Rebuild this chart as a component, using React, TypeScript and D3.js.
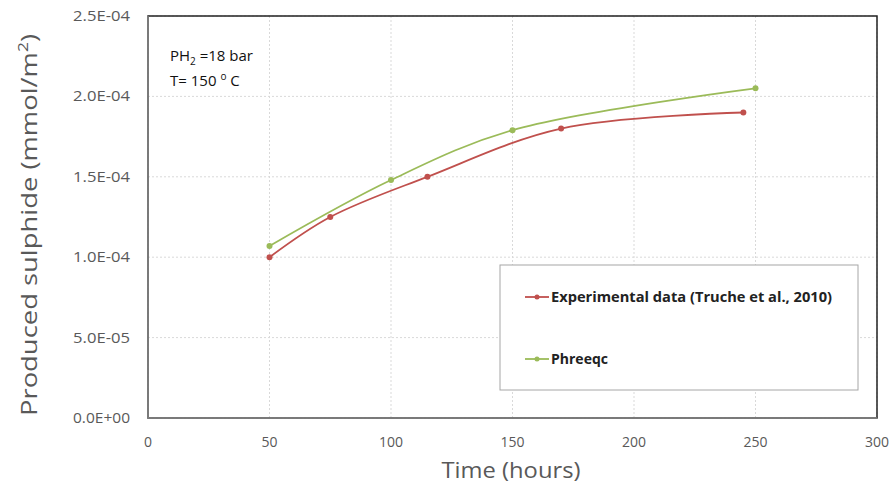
import React from "react";
import * as d3 from "d3";

const expTime = [50, 75, 115, 170, 245];
const expValues = [1.0e-4, 1.25e-4, 1.5e-4, 1.8e-4, 1.9e-4];
const phrTime = [50, 100, 150, 250];
const phrValues = [1.07e-4, 1.48e-4, 1.79e-4, 2.05e-4];
const xTicks = [0, 50, 100, 150, 200, 250, 300];
const yTicks = [0, 5e-5, 1e-4, 1.5e-4, 2e-4, 2.5e-4];
const yTickLabels = ["0.0E+00", "5.0E-05", "1.0E-04", "1.5E-04", "2.0E-04", "2.5E-04"];
const seriesNames = ["Experimental data (Truche et al., 2010)", "Phreeqc"];
const seriesColors = ["#C0504D", "#9BBB59"];

export default function App() {
  const W = 891, H = 491;
  const left = 148, right = 877, top = 16, bottom = 418;
  const x = d3.scaleLinear().domain([0, 300]).range([left, right]);
  const y = d3.scaleLinear().domain([0, 2.5e-4]).range([bottom, top]);
  const line = d3
    .line<[number, number]>()
    .x((d) => x(d[0]))
    .y((d) => y(d[1]))
    .curve(d3.curveCatmullRom.alpha(0.5));
  const series = [
    expTime.map((t, i) => [t, expValues[i]] as [number, number]),
    phrTime.map((t, i) => [t, phrValues[i]] as [number, number]),
  ];
  const font = "Open Sans, Liberation Sans, sans-serif";
  return (
    <svg width={W} height={H} style={{ position: "absolute", left: 0, top: 0 }}>
      <rect x={0} y={0} width={W} height={H} fill="#fff" />
      {xTicks.map((t) => (
        <line key={"gx" + t} x1={x(t)} x2={x(t)} y1={top} y2={bottom} stroke="#D9D9D9" strokeDasharray="2,2" />
      ))}
      {yTicks.map((t) => (
        <line key={"gy" + t} x1={left} x2={right} y1={y(t)} y2={y(t)} stroke="#D9D9D9" strokeDasharray="2,2" />
      ))}
      <rect x={left} y={top} width={right - left} height={bottom - top} fill="none" stroke="#222" strokeWidth={1.5} />
      <line x1={left} x2={left} y1={top} y2={bottom} stroke="#868686" strokeWidth={1.5} />
      <line x1={left} x2={right} y1={bottom} y2={bottom} stroke="#868686" strokeWidth={1.5} />
      {xTicks.map((t) => (
        <text key={"tx" + t} x={x(t)} y={bottom + 29} textAnchor="middle" fontFamily={font} fontSize={14} fill="#595959">
          {t}
        </text>
      ))}
      {yTicks.map((t, i) => (
        <text key={"ty" + t} x={130} y={y(t) + 5} textAnchor="end" fontFamily={font} fontSize={14} fill="#595959" textLength={57} lengthAdjust="spacingAndGlyphs">
          {yTickLabels[i]}
        </text>
      ))}
      <text x={511} y={478} textAnchor="middle" fontFamily={font} fontSize={22} fill="#595959" textLength={139} lengthAdjust="spacingAndGlyphs">
        Time (hours)
      </text>
      <text transform={`translate(37, 225) rotate(-90)`} textAnchor="middle" fontFamily={font} fontSize={22} fill="#595959" textLength={382} lengthAdjust="spacingAndGlyphs">
        Produced sulphide (mmol/m<tspan baselineShift="super" fontSize={14}>2</tspan>)
      </text>
      <text x={170} y={61} fontFamily={font} fontSize={15} fill="#111">
        PH<tspan fontSize={10} dy={4}>2</tspan>
        <tspan dy={-4}> =18 bar</tspan>
      </text>
      <text x={170} y={86} fontFamily={font} fontSize={15} fill="#111">
        T= 150 <tspan fontSize={10} dy={-6}>o</tspan>
        <tspan dy={6}> C</tspan>
      </text>
      {series.map((s, i) => (
        <g key={"s" + i}>
          <path d={line(s) || ""} fill="none" stroke={seriesColors[i]} strokeWidth={1.8} />
          {s.map((d, j) => (
            <circle key={j} cx={x(d[0])} cy={y(d[1])} r={3} fill={seriesColors[i]} />
          ))}
        </g>
      ))}
      <rect x={500} y={265} width={358} height={125} fill="#fff" stroke="#A6A6A6" strokeWidth={1} />
      {seriesNames.map((n, i) => {
        const ly = i === 0 ? 297 : 359;
        return (
          <g key={"l" + i}>
            <line x1={525} x2={549} y1={ly} y2={ly} stroke={seriesColors[i]} strokeWidth={1.8} />
            <circle cx={537} cy={ly} r={2.5} fill={seriesColors[i]} />
            <text x={551} y={ly + 5} fontFamily={font} fontSize={14} fontWeight="bold" fill="#222" textLength={i === 0 ? 281 : 57} lengthAdjust="spacingAndGlyphs">
              {n}
            </text>
          </g>
        );
      })}
    </svg>
  );
}
